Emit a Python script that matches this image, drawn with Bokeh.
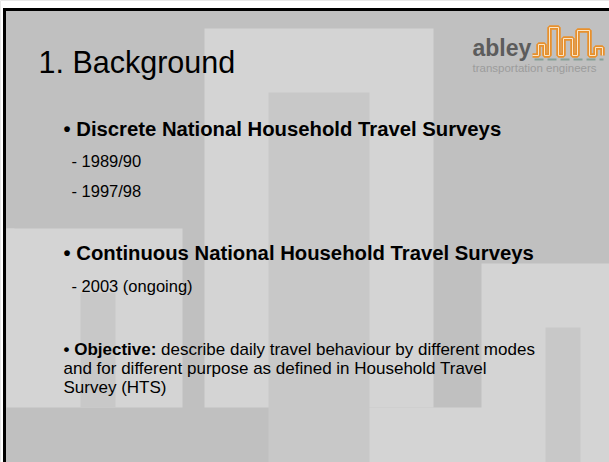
from bokeh.plotting import figure
from bokeh.models import Range1d
from bokeh.core.properties import value
from bokeh.embed import file_html
from bokeh.resources import INLINE

# ---- slide texts ----
title_text = ["1. Background"]
heading_texts = ["\u2022 Discrete National Household Travel Surveys",
                 "\u2022 Continuous National Household Travel Surveys"]
heading_y = [128, 252]
sub_texts = ["- 1989/90", "- 1997/98", "- 2003 (ongoing)"]
sub_y = [160, 190, 285]
objective_bold = ["\u2022 Objective:"]
objective_lines = ["describe daily travel behaviour by different modes",
                   "and for different purpose as defined in Household Travel",
                   "Survey (HTS)"]
objective_y = [349, 368, 387]
logo_word = ["abley"]
logo_tag = ["transportation engineers"]

# ---- background skyline blocks (image pixels) ----
light_left = [204, 6, 481, 367, 6]
light_right = [433, 182, 609, 609, 14]
light_top = [28, 228, 263, 407, 228]
light_bottom = [407, 407, 462, 462, 343]
dark_left = [268, 80, 545]
dark_right = [369, 115, 580]
dark_top = [92, 292, 327]
dark_bottom = [462, 407, 462]

# orange skyline of the logo
sky_x = [532, 538, 538, 544, 544, 549, 549, 558, 558, 563, 563, 572, 572, 577, 577, 589, 589, 595, 595, 602, 602]
sky_y = [55, 55, 44, 44, 55, 55, 27, 27, 55, 55, 38, 38, 55, 55, 30, 30, 55, 55, 47, 47, 55]

W, H = 609, 462
p = figure(width=W, height=H, output_backend="svg", toolbar_location=None,
           x_range=Range1d(0, W), y_range=Range1d(H, 0),
           min_border=0, outline_line_color=None)
p.axis.visible = False
p.grid.visible = False
p.background_fill_color = "#c0c0c0"
p.border_fill_color = "#c0c0c0"

p.quad(left=light_left, right=light_right, top=light_top, bottom=light_bottom,
       fill_color="#d4d4d4", line_color=None)
p.quad(left=dark_left, right=dark_right, top=dark_top, bottom=dark_bottom,
       fill_color="#c8c8c8", line_color=None)

# white strip above the slide and its black border
p.quad(left=[0], right=[W], top=[0], bottom=[7.5], fill_color="white", line_color=None)
p.quad(left=[0], right=[2.5], top=[7.5], bottom=[H], fill_color="white", line_color=None)
p.segment(x0=[2.5], y0=[9], x1=[W], y1=[9], line_color="black", line_width=3)
p.segment(x0=[4], y0=[7.5], x1=[4], y1=[H], line_color="black", line_width=3)

F = value("Liberation Sans")
p.text(x=[38], y=[61], text=title_text, text_font=F, text_font_size="30.5px",
       text_color="black", text_baseline="alphabetic")
p.text(x=[63, 63], y=heading_y, text=heading_texts, text_font=F, text_font_size="20.3px",
       text_font_style="bold", text_color="black", text_baseline="alphabetic")
p.text(x=[71, 71, 71], y=sub_y, text=sub_texts, text_font=F, text_font_size="16.5px",
       text_color="black", text_baseline="alphabetic")
p.text(x=[63], y=[objective_y[0]], text=objective_bold, text_font=F, text_font_size="17px",
       text_font_style="bold", text_color="black", text_baseline="alphabetic")
p.text(x=[160.5, 63, 63], y=objective_y, text=objective_lines, text_font=F, text_font_size="17px",
       text_color="black", text_baseline="alphabetic")

# logo
p.text(x=[472], y=[47], text=logo_word, text_font=F, text_font_size="23px",
       text_font_style="bold", text_color="#5c5c5c", text_baseline="alphabetic")
p.line(x=sky_x, y=sky_y, line_color="#e8902c", line_width=4.5)
p.line(x=sky_x, y=sky_y, line_color="#fae6c8", line_width=1)
p.segment(x0=[534], y0=[59], x1=[603], y1=[59], line_color="#86a096", line_width=2, line_dash="9 4")
p.text(x=[472], y=[67], text=logo_tag, text_font=F, text_font_size="11.5px",
       text_color="#9c9c9c", text_baseline="alphabetic")

open("out.html", "w").write(file_html(p, INLINE))
